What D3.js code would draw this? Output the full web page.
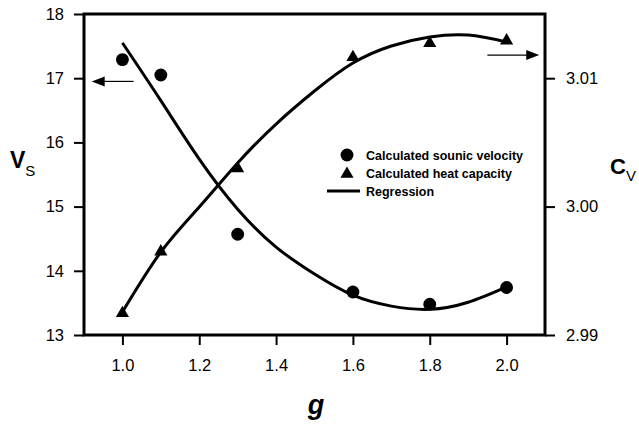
<!DOCTYPE html>
<html>
<head>
<meta charset="utf-8">
<script src="https://cdn.jsdelivr.net/npm/d3@7/dist/d3.min.js"></script>
<style>
  body { margin: 0; background: #fff; }
  svg { display: block; font-family: "Liberation Sans", Arial, sans-serif; }
</style>
</head>
<body>
<div id="chart"></div>
<script>
// calculated points
const gPoints = [1.0, 1.1, 1.3, 1.6, 1.8, 2.0];
const vsPoints = [17.29, 17.05, 14.57, 13.67, 13.48, 13.74];
const cvPoints = [2.99169, 2.99649, 3.00298, 3.01163, 3.01272, 3.01292];

// regression curves, sampled from the figure
const gCurve = [1.0, 1.1, 1.2, 1.3, 1.4, 1.5, 1.6, 1.7, 1.8, 1.9, 2.0];
const vsCurve = [17.55, 16.65, 15.74, 14.96, 14.37, 13.95, 13.62, 13.45, 13.40, 13.51, 13.75];
const cvCurve = [2.99179, 2.99646, 2.99997, 3.00340, 3.00643, 3.00900, 3.01118, 3.01251, 3.01321, 3.01336, 3.01282];

// tick labels
const xTicks = [1.0, 1.2, 1.4, 1.6, 1.8, 2.0];
const vsTicks = [13, 14, 15, 16, 17, 18];
const cvTicks = [2.99, 3.00, 3.01];

const legendLabels = ["Calculated sounic velocity", "Calculated heat capacity", "Regression"];

const width = 639, height = 426;
const plotL = 84, plotR = 545, plotT = 14, plotB = 335;

const x = d3.scaleLinear().domain([0.9, 2.1]).range([plotL, plotR]);
const yL = d3.scaleLinear().domain([13, 18]).range([plotB, plotT]);
const yR = d3.scaleLinear().domain([2.99, 3.015]).range([plotB, plotT]);

const svg = d3.select("#chart").append("svg")
    .attr("width", width)
    .attr("height", height);

// axes, ticks outside
const styleAxis = g => {
  g.select(".domain").remove();
  g.selectAll(".tick line").attr("stroke", "#000").attr("stroke-width", 2);
  g.selectAll(".tick text").attr("fill", "#000").attr("font-size", 16.5);
};

svg.append("g")
    .attr("transform", `translate(${plotL},0)`)
    .call(d3.axisLeft(yL).tickValues(vsTicks).tickFormat(d3.format("d")).tickSize(10).tickPadding(10))
    .call(styleAxis);

svg.append("g")
    .attr("transform", `translate(${plotR},0)`)
    .call(d3.axisRight(yR).tickValues(cvTicks).tickFormat(d3.format(".2f")).tickSize(10).tickPadding(11))
    .call(styleAxis);

svg.append("g")
    .attr("transform", `translate(0,${plotB})`)
    .call(d3.axisBottom(x).tickValues(xTicks).tickFormat(d3.format(".1f")).tickSize(10).tickPadding(14))
    .call(styleAxis);

// frame
svg.append("rect")
    .attr("x", plotL).attr("y", plotT)
    .attr("width", plotR - plotL).attr("height", plotB - plotT)
    .attr("fill", "none").attr("stroke", "#000").attr("stroke-width", 3);

// regression lines
const lineVs = d3.line().x((d, i) => x(gCurve[i])).y(d => yL(d)).curve(d3.curveNatural);
const lineCv = d3.line().x((d, i) => x(gCurve[i])).y(d => yR(d)).curve(d3.curveNatural);

svg.append("path").attr("d", lineVs(vsCurve))
    .attr("fill", "none").attr("stroke", "#000").attr("stroke-width", 3);
svg.append("path").attr("d", lineCv(cvCurve))
    .attr("fill", "none").attr("stroke", "#000").attr("stroke-width", 3);

// markers
const circle = d3.symbol().type(d3.symbolCircle).size(130);
const tri = d3.symbol().type(d3.symbolTriangle).size(75);

svg.append("g").selectAll("path")
  .data(vsPoints)
  .join("path")
    .attr("transform", (d, i) => `translate(${x(gPoints[i])},${yL(d)})`)
    .attr("d", circle);

svg.append("g").selectAll("path")
  .data(cvPoints)
  .join("path")
    .attr("transform", (d, i) => `translate(${x(gPoints[i])},${yR(d)})`)
    .attr("d", tri);

// arrows pointing to each series' axis
const arrow = (x1, x2, y) => {
  const dir = Math.sign(x2 - x1);
  svg.append("line")
      .attr("x1", x1).attr("x2", x2 - dir * 12).attr("y1", y).attr("y2", y)
      .attr("stroke", "#000").attr("stroke-width", 1.2);
  svg.append("path")
      .attr("d", `M${x2},${y}L${x2 - dir * 13},${y - 5}L${x2 - dir * 13},${y + 5}Z`);
};
arrow(x(1.029), x(0.92), yL(16.95));
arrow(x(1.95), x(2.085), yR(3.0118));

// legend
const legend = svg.append("g").attr("font-size", 12.5).attr("font-weight", "bold");
const lx = 347, ly = [155, 173, 191];
legend.append("path").attr("transform", `translate(${lx},${ly[0]})`).attr("d", circle);
legend.append("path").attr("transform", `translate(${lx},${ly[1] + 1})`).attr("d", tri);
legend.append("line")
    .attr("x1", 327).attr("x2", 360).attr("y1", ly[2]).attr("y2", ly[2])
    .attr("stroke", "#000").attr("stroke-width", 3);
legend.selectAll("text")
  .data(legendLabels)
  .join("text")
    .attr("x", 366)
    .attr("y", (d, i) => ly[i])
    .attr("dy", "0.36em")
    .text(d => d);

// axis titles
const vs = svg.append("text").attr("x", 10).attr("y", 168);
vs.append("tspan").attr("font-size", 23).attr("font-weight", "bold").text("V");
vs.append("tspan").attr("font-size", 15).attr("dy", 8).text("S");

const cv = svg.append("text").attr("x", 610).attr("y", 174);
cv.append("tspan").attr("font-size", 22).attr("font-weight", "bold").text("C");
cv.append("tspan").attr("font-size", 15).attr("dy", 7).text("V");

svg.append("text")
    .attr("x", 316).attr("y", 414)
    .attr("text-anchor", "middle")
    .attr("font-size", 27).attr("font-weight", "bold").attr("font-style", "italic")
    .text("g");
</script>
</body>
</html>
